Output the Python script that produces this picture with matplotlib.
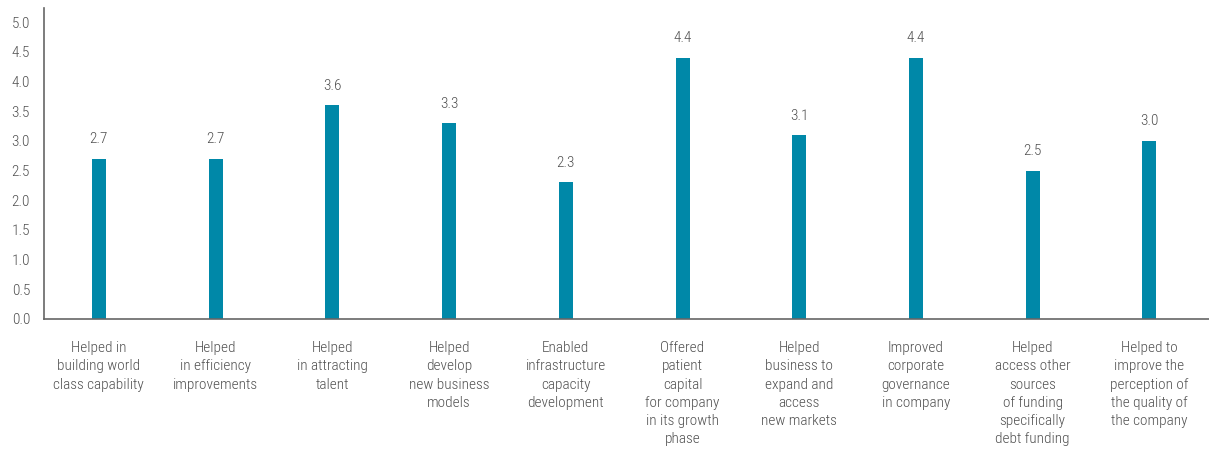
import matplotlib
matplotlib.use("Agg")
import matplotlib.pyplot as plt
from matplotlib import font_manager
import numpy as np

categories = [
    "Helped in\nbuilding world\nclass capability",
    "Helped\nin efficiency\nimprovements",
    "Helped\nin attracting\ntalent",
    "Helped\ndevelop\nnew business\nmodels",
    "Enabled\ninfrastructure\ncapacity\ndevelopment",
    "Offered\npatient\ncapital\nfor company\nin its growth\nphase",
    "Helped\nbusiness to\nexpand and\naccess\nnew markets",
    "Improved\ncorporate\ngovernance\nin company",
    "Helped\naccess other\nsources\nof funding\nspecifically\ndebt funding",
    "Helped to\nimprove the\nperception of\nthe quality of\nthe company",
]
scores = [2.7, 2.7, 3.6, 3.3, 2.3, 4.4, 3.1, 4.4, 2.5, 3.0]
yticks = [0.0, 0.5, 1.0, 1.5, 2.0, 2.5, 3.0, 3.5, 4.0, 4.5, 5.0]

# condensed face if one is around, otherwise a plain sans
have = {f.name for f in font_manager.fontManager.ttflist}
wanted = ["Roboto Condensed", "Liberation Sans Narrow", "Archivo Narrow",
          "PT Sans Narrow", "Roboto"]
fams = [n for n in wanted if n in have][:1] + ["DejaVu Sans"]
plt.rcParams['font.family'] = fams
plt.rcParams['font.weight'] = "light"
condensed = fams[0] not in ("DejaVu Sans", "Roboto")

text_col = "#505050"
bar_col = "#0088A8"
fs = 11 if condensed else 9.5

fig = plt.figure(figsize=(12.09, 4.55), dpi=100)
ax = fig.add_axes([44 / 1209, 136 / 455, 1 - 44 / 1209, 311 / 455])

x = np.arange(len(scores))
bars = ax.bar(x, scores, width=0.12, color=bar_col)
for b, v in zip(bars, scores):
    ax.annotate(f"{v:.1f}", (b.get_x() + b.get_width() / 2, v),
                xytext=(0, 9), textcoords="offset points",
                ha="center", va="bottom", fontsize=fs, color=text_col)

ax.set_xlim(-0.47, 9.51)
ax.set_ylim(0, 5.24)
ax.set_yticks(yticks)
ax.set_yticklabels([f"{t:.1f}" for t in yticks])
ax.set_xticks(x)
ax.set_xticklabels(categories, fontsize=fs, color=text_col, linespacing=1.38, va="top")
ax.tick_params(axis="both", length=0, colors=text_col, labelsize=fs)
ax.tick_params(axis="x", pad=16)
ax.tick_params(axis="y", pad=10)

for s in ["top", "right"]:
    ax.spines[s].set_visible(False)
for s in ["left", "bottom"]:
    ax.spines[s].set_color("#666666")
    ax.spines[s].set_linewidth(1.2)

fig.savefig("out.png", dpi=100)
